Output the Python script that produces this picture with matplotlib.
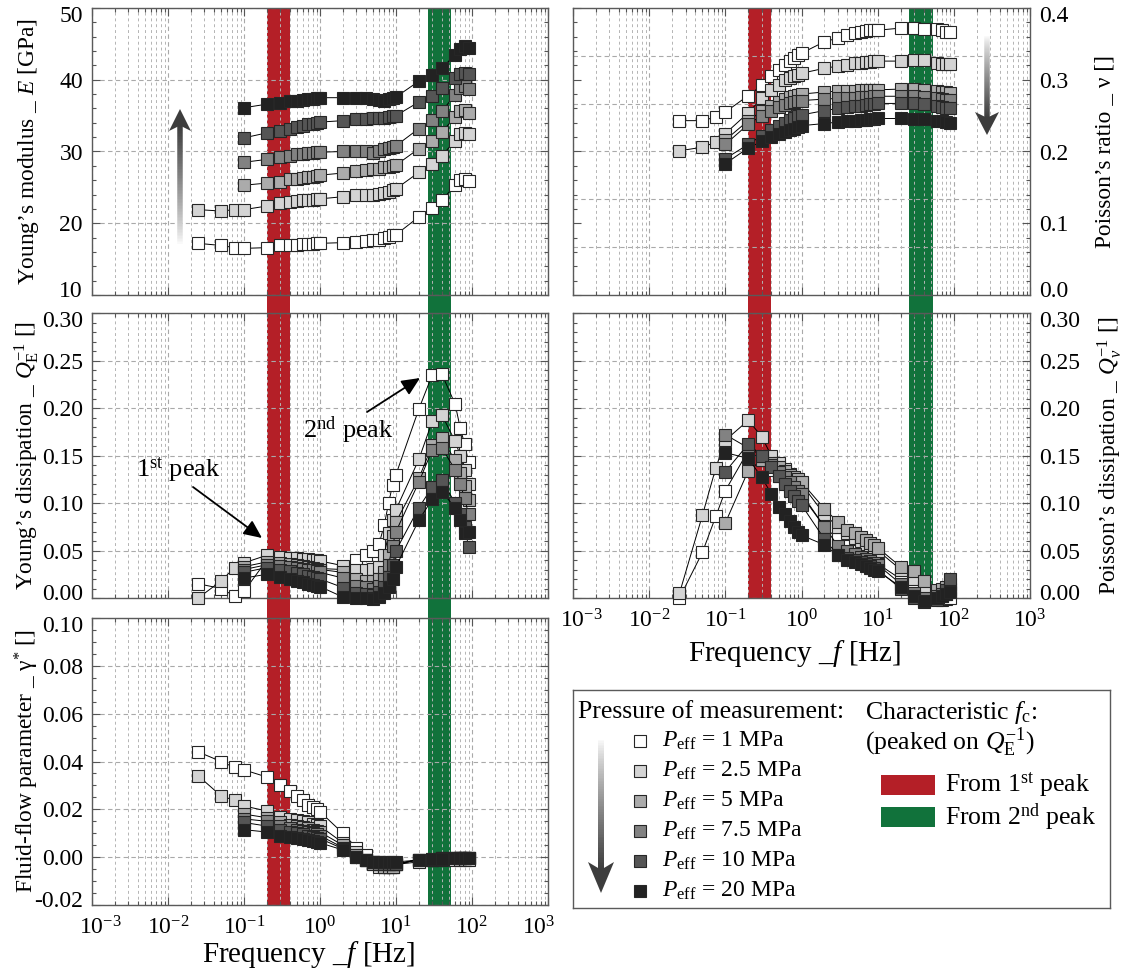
import numpy as np
import matplotlib
matplotlib.use("Agg")
import matplotlib.pyplot as plt
import matplotlib.transforms as mtransforms
from matplotlib.patches import Rectangle, Polygon
from matplotlib.collections import LineCollection
from matplotlib.ticker import LogLocator, MultipleLocator, FormatStrFormatter, NullFormatter

plt.rcParams['font.family'] = ['Liberation Serif', 'DejaVu Serif']
plt.rcParams['mathtext.fontset'] = 'custom'
plt.rcParams['mathtext.rm'] = 'Liberation Serif'
plt.rcParams['mathtext.it'] = 'Liberation Serif:italic'
plt.rcParams['mathtext.bf'] = 'Liberation Serif:bold'

# ---- data ----
f_low = [0.025, 0.05, 0.075]
f_main = [0.1, 0.2, 0.3, 0.4, 0.5, 0.6, 0.7, 0.8, 0.9, 1, 2, 3, 4, 5, 6, 7, 8, 9, 10,
          20, 30, 40, 60, 70, 80, 90]
f_long = f_low + f_main

pressure_labels = ["1", "2.5", "5", "7.5", "10", "20"]
face_colors = ["#ffffff", "#d4d4d4", "#ababab", "#828282", "#555555", "#222222"]

# Young's modulus [GPa]
E_1 = [17.2, 16.9, 16.6, 16.5, 16.6, 16.9, 17.0, 17.0, 17.1, 17.1, 17.1, 17.2, 17.2, 17.3, 17.4,
       17.5, 17.6, 17.7, 17.9, 18.1, 18.3, 18.4, 20.9, 22.1, 23.2, 25.3, 26.0, 26.2, 25.9]
E_25 = [21.9, 21.7, 21.9, 21.9, 22.4, 22.8, 23.0, 23.1, 23.2, 23.3, 23.3, 23.4, 23.4, 23.7, 23.9,
        23.9, 24.0, 24.1, 24.2, 24.4, 24.6, 24.8, 27.1, 28.3, 29.4, 31.5, 32.4, 32.6, 32.4]
E_5 = [25.3, 25.6, 25.8, 26.1, 26.2, 26.3, 26.4, 26.5, 26.6, 26.7, 27.0, 27.3, 27.4, 27.5, 27.6,
       27.8, 27.9, 28.0, 28.1, 30.4, 31.5, 32.7, 34.8, 35.6, 35.8, 35.4]
E_75 = [28.5, 28.9, 29.2, 29.4, 29.6, 29.7, 29.8, 29.8, 29.9, 29.9, 30.0, 30.0, 30.0, 29.8, 30.1,
        30.3, 30.5, 30.6, 30.8, 33.2, 34.4, 35.6, 37.9, 38.8, 39.1, 38.7]
E_10 = [31.9, 32.6, 32.9, 33.2, 33.4, 33.6, 33.8, 33.9, 34.0, 34.1, 34.3, 34.5, 34.5, 34.6, 34.7,
        34.7, 34.8, 34.9, 35.0, 36.9, 37.8, 38.8, 40.3, 40.8, 41.0, 40.8]
E_20 = [36.1, 36.6, 36.8, 37.0, 37.1, 37.2, 37.3, 37.3, 37.4, 37.5, 37.5, 37.4, 37.4, 37.3, 37.2,
        37.1, 37.3, 37.5, 37.6, 39.8, 40.7, 41.6, 43.5, 44.3, 44.7, 44.4]

# Poisson's ratio [-]
nu_1 = [0.243, 0.243, 0.248, 0.255, 0.278, 0.292, 0.305, 0.314, 0.321, 0.326, 0.331, 0.335, 0.337,
        0.353, 0.358, 0.363, 0.365, 0.367, 0.368, 0.369, 0.369, 0.369, 0.372, 0.372, 0.371,
        0.371, 0.369, 0.367, 0.367]
nu_25 = [0.201, 0.206, 0.213, 0.225, 0.254, 0.274, 0.286, 0.293, 0.299, 0.302, 0.305, 0.307, 0.309,
         0.316, 0.319, 0.321, 0.323, 0.324, 0.325, 0.325, 0.326, 0.326, 0.326, 0.327, 0.327,
         0.323, 0.322, 0.322, 0.322]
nu_5 = [0.216, 0.243, 0.256, 0.264, 0.269, 0.273, 0.276, 0.278, 0.279, 0.280, 0.283, 0.284, 0.285,
        0.285, 0.286, 0.286, 0.286, 0.286, 0.286, 0.287, 0.287, 0.286, 0.284, 0.283, 0.283, 0.282]
nu_75 = [0.210, 0.238, 0.250, 0.257, 0.262, 0.265, 0.267, 0.269, 0.270, 0.271, 0.273, 0.274, 0.275,
         0.275, 0.276, 0.276, 0.276, 0.277, 0.277, 0.277, 0.277, 0.276, 0.274, 0.273, 0.272, 0.272]
nu_10 = [0.190, 0.210, 0.222, 0.230, 0.236, 0.240, 0.244, 0.247, 0.249, 0.251, 0.257, 0.260, 0.262,
         0.263, 0.264, 0.265, 0.266, 0.266, 0.267, 0.267, 0.267, 0.266, 0.264, 0.262, 0.261, 0.260]
nu_20 = [0.183, 0.205, 0.214, 0.220, 0.224, 0.227, 0.230, 0.232, 0.234, 0.236, 0.239, 0.241, 0.242,
         0.243, 0.244, 0.244, 0.245, 0.245, 0.246, 0.246, 0.245, 0.245, 0.243, 0.242, 0.241, 0.240]

# Young's dissipation Q_E^-1
QE_1 = [0.015, 0.010, 0.002, 0.007, 0.040, 0.038, 0.037, 0.036, 0.035, 0.034, 0.033, 0.032, 0.031,
        0.030, 0.040, 0.045, 0.049, 0.057, 0.077, 0.100, 0.119, 0.130, 0.199, 0.235, 0.236,
        0.204, 0.179, 0.162, 0.143]
QE_25 = [0.000, 0.018, 0.032, 0.037, 0.045, 0.043, 0.042, 0.042, 0.041, 0.041, 0.040, 0.040, 0.039,
         0.034, 0.030, 0.030, 0.031, 0.033, 0.045, 0.068, 0.082, 0.093, 0.146, 0.186, 0.193,
         0.165, 0.150, 0.135, 0.120]
QE_5 = [0.033, 0.038, 0.037, 0.036, 0.035, 0.034, 0.033, 0.032, 0.031, 0.030, 0.027, 0.020, 0.018,
        0.018, 0.020, 0.027, 0.045, 0.065, 0.080, 0.126, 0.161, 0.168, 0.145, 0.132, 0.118, 0.103]
QE_75 = [0.030, 0.035, 0.034, 0.033, 0.032, 0.031, 0.030, 0.029, 0.028, 0.027, 0.021, 0.013, 0.012,
         0.010, 0.013, 0.020, 0.035, 0.055, 0.070, 0.122, 0.156, 0.158, 0.135, 0.120, 0.105, 0.088]
QE_10 = [0.027, 0.032, 0.030, 0.028, 0.026, 0.025, 0.023, 0.022, 0.021, 0.020, 0.011, 0.005, 0.004,
         0.003, 0.006, 0.012, 0.022, 0.035, 0.050, 0.095, 0.117, 0.124, 0.100, 0.088, 0.075, 0.054]
QE_20 = [0.021, 0.025, 0.022, 0.020, 0.018, 0.017, 0.015, 0.014, 0.013, 0.012, 0.001, 0.000, 0.000,
         -0.001, 0.001, 0.005, 0.012, 0.020, 0.033, 0.082, 0.104, 0.112, 0.095, 0.082, 0.068, 0.070]

# Poisson's dissipation Q_nu^-1
Qv_1 = [0.000, 0.048, 0.086, 0.113, 0.155, 0.145, 0.135, 0.128, 0.122, 0.118, 0.114, 0.111, 0.108,
        0.075, 0.062, 0.055, 0.050, 0.046, 0.043, 0.040, 0.038, 0.036, 0.020, 0.008, 0.003,
        0.000, -0.002, -0.001, 0.000]
Qv_25 = [0.005, 0.087, 0.137, 0.166, 0.187, 0.170, 0.150, 0.142, 0.136, 0.131, 0.127, 0.123, 0.120,
         0.088, 0.075, 0.068, 0.063, 0.060, 0.057, 0.055, 0.052, 0.050, 0.030, 0.020, 0.012,
         0.005, 0.003, 0.004, 0.006]
Qv_5 = [0.079, 0.134, 0.145, 0.142, 0.138, 0.134, 0.130, 0.127, 0.125, 0.122, 0.094, 0.080, 0.072,
        0.068, 0.064, 0.061, 0.058, 0.056, 0.053, 0.033, 0.028, 0.018, 0.008, 0.010, 0.012, 0.015]
Qv_75 = [0.172, 0.158, 0.150, 0.140, 0.133, 0.127, 0.122, 0.117, 0.113, 0.110, 0.075, 0.055, 0.050,
         0.046, 0.043, 0.041, 0.039, 0.037, 0.035, 0.015, 0.005, 0.000, 0.002, 0.004, 0.006, 0.010]
Qv_10 = [0.133, 0.162, 0.150, 0.138, 0.128, 0.120, 0.113, 0.107, 0.102, 0.098, 0.062, 0.045, 0.042,
         0.040, 0.038, 0.036, 0.034, 0.032, 0.030, 0.010, 0.000, -0.004, -0.002, 0.002, 0.008, 0.020]
Qv_20 = [0.153, 0.147, 0.127, 0.110, 0.096, 0.088, 0.081, 0.075, 0.070, 0.066, 0.056, 0.045, 0.040,
         0.038, 0.036, 0.034, 0.032, 0.030, 0.028, 0.012, 0.002, -0.003, 0.000, 0.002, 0.004, 0.006]

# fluid-flow parameter gamma*
g_1 = [0.044, 0.040, 0.0375, 0.0365, 0.0335, 0.030, 0.0275, 0.0257, 0.0238, 0.022, 0.021, 0.020,
       0.019, 0.010, 0.004, 0.001, -0.002, -0.003, -0.004, -0.004, -0.004, -0.003, -0.002,
       -0.001, -0.001, -0.001, -0.001, -0.001, -0.001]
g_25 = [0.034, 0.0256, 0.0238, 0.0214, 0.0193, 0.017, 0.016, 0.0155, 0.015, 0.0145, 0.014, 0.0135,
        0.013, 0.006, 0.002, -0.001, -0.003, -0.004, -0.004, -0.004, -0.004, -0.003, -0.001,
        -0.001, -0.0005, -0.0005, -0.0005, -0.0005, -0.0005]
g_5 = [0.018, 0.0165, 0.0145, 0.0135, 0.013, 0.0125, 0.012, 0.0115, 0.011, 0.0105, 0.005, 0.001,
       -0.001, -0.003, -0.003, -0.004, -0.004, -0.004, -0.003, -0.001, -0.001, -0.0005, -0.0005,
       -0.0005, -0.0005, -0.0005]
g_75 = [0.016, 0.015, 0.013, 0.012, 0.0115, 0.011, 0.0105, 0.010, 0.0095, 0.009, 0.004, 0.000,
        -0.001, -0.002, -0.003, -0.003, -0.003, -0.003, -0.003, -0.001, -0.001, -0.0005, -0.0005,
        -0.0005, -0.0005, -0.0005]
g_10 = [0.0145, 0.013, 0.0115, 0.0105, 0.010, 0.0095, 0.009, 0.0085, 0.008, 0.0078, 0.0035, 0.000,
        -0.001, -0.002, -0.002, -0.003, -0.003, -0.003, -0.003, -0.001, -0.0008, -0.0005, -0.0005,
        -0.0005, -0.0005, -0.0005]
g_20 = [0.0115, 0.0105, 0.009, 0.0085, 0.008, 0.0075, 0.007, 0.0068, 0.0065, 0.006, 0.003, 0.000,
        -0.001, -0.002, -0.002, -0.002, -0.002, -0.002, -0.002, -0.0012, -0.0008, -0.0006, -0.0005,
        -0.0005, -0.0005, -0.0005]

# characteristic frequency bands [Hz]
bands = [(0.2, 0.4), (26, 53)]
band_colors = ["#b41f27", "#11723b"]
band_labels = ["From 1$^{\\mathrm{st}}$ peak", "From 2$^{\\mathrm{nd}}$ peak"]

# ---- figure ----
W, H = 1122, 971
fig = plt.figure(figsize=(W / 100, H / 100), dpi=100)
# reference-pixel coordinates (origin top-left)
pix = mtransforms.Affine2D().scale(1 / W, -1 / H).translate(0, 1) + fig.transFigure


def px_box(x0, y0, x1, y1):
    return [x0 / W, 1 - y1 / H, (x1 - x0) / W, (y1 - y0) / H]


GRID = dict(color="#a9a9a9", lw=0.8, ls=(0, (4, 3)))
GRID_MINOR = dict(color="#b4b4b4", lw=0.7, ls=(0, (3, 3)))
TICK_FS = 17
YLAB_FS = 16.8
MS = 8.8


def setup(ax, ylim, major, minor, fmt, right=False, xlabels=False, ygrid=True):
    ax.set_facecolor("none")
    ax.set_xscale("log")
    ax.set_xlim(1e-3, 1e3)
    ax.set_ylim(*ylim)
    # only the ticks inside the frame get labels
    ax.set_xticks(10.0 ** np.arange(-3, 4))
    ax.xaxis.set_minor_locator(LogLocator(base=10, subs=np.arange(2, 10), numticks=10))
    ax.xaxis.set_minor_formatter(NullFormatter())
    ax.set_yticks(np.arange(ylim[0], ylim[1] + major / 2, major))
    ax.yaxis.set_minor_locator(MultipleLocator(minor))
    ax.yaxis.set_major_formatter(FormatStrFormatter(fmt))
    ax.tick_params(which="both", direction="in", top=True, bottom=True, left=True, right=True,
                   color="#555555", labelsize=TICK_FS, width=0.8)
    ax.tick_params(which="major", length=6)
    ax.tick_params(which="minor", length=3)
    ax.tick_params(axis="y", pad=6.5)
    ax.tick_params(axis="x", pad=8)
    if right:
        ax.tick_params(axis="y", labelleft=False, labelright=True)
        ax.yaxis.set_label_position("right")
    if not xlabels:
        ax.tick_params(axis="x", labelbottom=False)
    ax.grid(True, which="major", axis="x", **GRID)
    ax.grid(True, which="minor", axis="x", **GRID_MINOR)
    if ygrid:
        ax.grid(True, which="major", axis="y", **GRID)
    for s in ax.spines.values():
        s.set_color("#5a5a5a")
        s.set_linewidth(1.0)


def plot_series(ax, series):
    for ys, c in zip(series, face_colors):
        f = f_long if len(ys) == len(f_long) else f_main
        ax.plot(f, ys, "-", color="black", lw=0.7, marker="s", ms=MS, mfc=c,
                mec="#262626", mew=0.8, clip_on=False, zorder=3)


ax_E = fig.add_axes(px_box(92, 8, 548, 295))
ax_nu = fig.add_axes(px_box(573, 8, 1030, 295))
ax_QE = fig.add_axes(px_box(92, 313, 548, 598))
ax_Qv = fig.add_axes(px_box(573, 313, 1030, 598))
ax_g = fig.add_axes(px_box(92, 618, 548, 905))
ax_leg = fig.add_axes(px_box(573, 690, 1110, 908))

setup(ax_E, (10, 50), 10, 2, "%d")
setup(ax_nu, (0, 0.4), 0.1, 0.02, "%.1f", right=True, ygrid=False)
for yv in np.linspace(0, 0.4, 7)[1:-1]:
    ax_nu.axhline(yv, zorder=1.5, **GRID)
setup(ax_QE, (0, 0.30), 0.05, 0.01, "%.2f")
setup(ax_Qv, (0, 0.30), 0.05, 0.01, "%.2f", right=True, xlabels=True)
setup(ax_g, (-0.02, 0.10), 0.02, 0.005, "%.2f", xlabels=True)

plot_series(ax_E, [E_1, E_25, E_5, E_75, E_10, E_20])
plot_series(ax_nu, [nu_1, nu_25, nu_5, nu_75, nu_10, nu_20])
plot_series(ax_QE, [QE_1, QE_25, QE_5, QE_75, QE_10, QE_20])
plot_series(ax_Qv, [Qv_1, Qv_25, Qv_5, Qv_75, Qv_10, Qv_20])
plot_series(ax_g, [g_1, g_25, g_5, g_75, g_10, g_20])

# axis labels
ax_E.set_ylabel("Young\u2019s modulus _ $E$ [GPa]", fontsize=YLAB_FS)
ax_QE.set_ylabel("Young\u2019s dissipation _ $Q_{\\mathrm{E}}^{\\mathrm{-1}}$ []", fontsize=YLAB_FS)
ax_g.set_ylabel("Fluid-flow parameter _ \u03b3$^{*}$ []", fontsize=YLAB_FS)
ax_nu.set_ylabel("Poisson\u2019s ratio _ \u03bd []", fontsize=YLAB_FS)
ax_Qv.set_ylabel("Poisson\u2019s dissipation _ $Q_{\\nu}^{\\mathrm{-1}}$ []", fontsize=YLAB_FS)
for ax in (ax_E, ax_QE, ax_g):
    ax.yaxis.set_label_coords(-0.112, 0.5)
for ax in (ax_nu, ax_Qv):
    ax.yaxis.set_label_coords(1.142, 0.5)
ax_g.set_xlabel("Frequency _$f$ [Hz]", fontsize=21)
ax_g.xaxis.set_label_coords(0.475, -0.118)
ax_Qv.set_xlabel("Frequency _$f$ [Hz]", fontsize=21)
ax_Qv.xaxis.set_label_coords(0.485, -0.14)

# characteristic-frequency bands, continuous through the panel gaps
for ax, (ytop, ybot) in [(ax_E, (8, 905)), (ax_nu, (8, 598))]:
    tr = mtransforms.blended_transform_factory(ax.transData, pix)
    for (lo, hi), col in zip(bands, band_colors):
        fig.add_artist(Rectangle((lo, ytop), hi - lo, ybot - ytop, transform=tr,
                                 facecolor=col, edgecolor="none", zorder=-1))


def grad_arrow(x, y_tail, y_base, y_tip, half_w, shaft_px):
    dark = np.array([0.24, 0.24, 0.24])
    light = np.array([1.0, 1.0, 1.0])
    notch = y_base + 0.25 * (y_tip - y_base)
    n = 80
    ys = np.linspace(y_tail, notch, n + 1)
    segs = [[(x, ys[i]), (x, ys[i + 1])] for i in range(n)]
    t = np.linspace(0, 1, n) ** 0.8
    cols = [tuple(light + (dark - light) * tt) for tt in t]
    fig.add_artist(LineCollection(segs, colors=cols, linewidths=shaft_px * 0.72,
                                  transform=pix, capstyle="butt", zorder=4))
    fig.add_artist(Polygon([(x - half_w, y_base), (x, y_tip), (x + half_w, y_base), (x, notch)],
                           closed=True, transform=pix, facecolor=dark, edgecolor="none",
                           zorder=4))


grad_arrow(180, 245, 131, 109, 11, 5.5)
grad_arrow(987, 35, 112, 135, 12, 5.5)
grad_arrow(601, 738, 862, 893, 13, 6)

# peak annotations
arrow_kw = dict(arrowstyle="-|>,head_length=0.55,head_width=0.25", color="black", lw=1.3,
                mutation_scale=20, shrinkA=0, shrinkB=0)
ax_QE.annotate("", xy=(420, 378), xytext=(367, 412), xycoords=pix, textcoords=pix,
               arrowprops=arrow_kw)
ax_QE.text(348, 430, "2$^{\\mathrm{nd}}$ peak", transform=pix, ha="center", va="center",
           fontsize=19)
ax_QE.annotate("", xy=(262, 538), xytext=(193, 487), xycoords=pix, textcoords=pix,
               arrowprops=arrow_kw)
ax_QE.text(178, 470, "1$^{\\mathrm{st}}$ peak", transform=pix, ha="center", va="center",
           fontsize=19)

# legend box
ax_leg.set_xticks([])
ax_leg.set_yticks([])
for s in ax_leg.spines.values():
    s.set_color("#5a5a5a")
    s.set_linewidth(1.0)
ax_leg.text(578, 712, "Pressure of measurement:", transform=pix, ha="left", va="center",
            fontsize=18.5)
for i, (lab, c) in enumerate(zip(pressure_labels, face_colors)):
    y = 741 + 30 * i
    ax_leg.plot([640], [y], marker="s", ms=9, mfc=c, mec="#262626", mew=0.8,
                transform=pix, clip_on=False)
    ax_leg.text(662, y, "$P_{\\mathrm{eff}}$ = " + lab + " MPa", transform=pix, ha="left",
                va="center", fontsize=17)
ax_leg.text(865, 712, "Characteristic $f_{\\mathrm{c}}$:", transform=pix, ha="left",
            va="center", fontsize=18.5)
ax_leg.text(865, 742, "(peaked on $Q_{\\mathrm{E}}^{\\mathrm{-1}}$)", transform=pix, ha="left",
            va="center", fontsize=18.5)
for i, (lab, col) in enumerate(zip(band_labels, band_colors)):
    y = 785 + 32 * i
    ax_leg.add_patch(Rectangle((881, y - 10), 54, 20, transform=pix, facecolor=col,
                               edgecolor="none"))
    ax_leg.text(945, y, lab, transform=pix, ha="left", va="center", fontsize=18.5)

# end tick labels sit a little inside the frame, as in the reference
fig.canvas.draw()
DPI = fig.dpi_scale_trans


def nudge(ax, which, d_lo, d_hi):
    axis = ax.yaxis if which == "y" else ax.xaxis
    locs = axis.get_majorticklocs()
    ticks = axis.get_major_ticks(len(locs))
    lo, hi = (ax.get_ylim() if which == "y" else ax.get_xlim())
    for t, v in zip(ticks, locs):
        d = d_lo if np.isclose(v, lo) else (d_hi if np.isclose(v, hi) else 0)
        if d:
            off = (mtransforms.ScaledTranslation(0, d / 100, DPI) if which == "y"
                   else mtransforms.ScaledTranslation(d / 100, 0, DPI))
            for lab in (t.label1, t.label2):
                lab.set_transform(lab.get_transform() + off)


for ax in (ax_E, ax_nu, ax_QE, ax_Qv, ax_g):
    nudge(ax, "y", 6, -6)
nudge(ax_g, "x", 8, -9)
nudge(ax_Qv, "x", 8, 0)

fig.savefig("out.png", dpi=100)
